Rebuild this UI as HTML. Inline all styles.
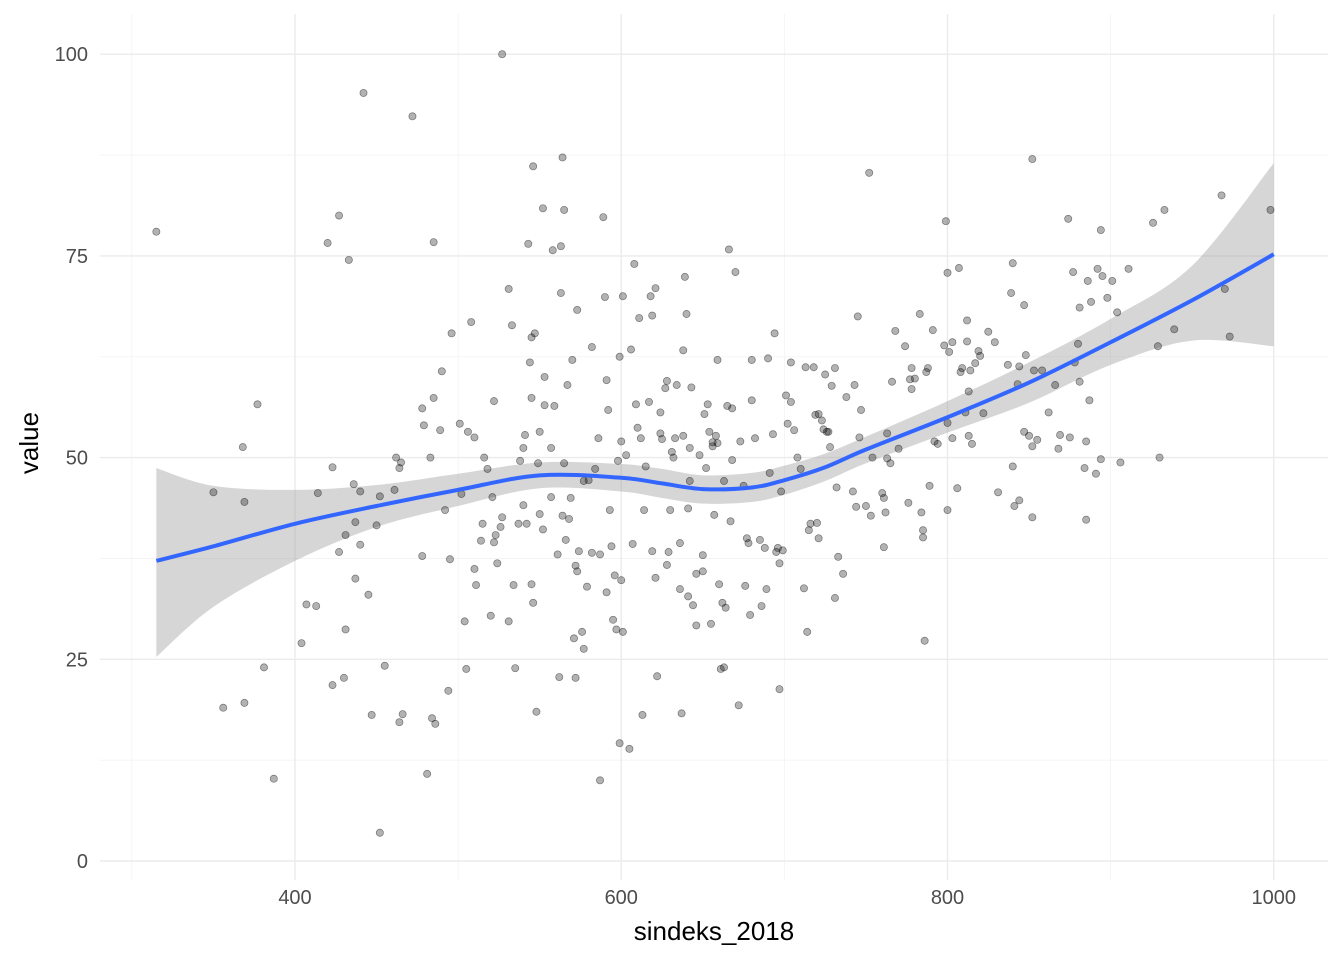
<!DOCTYPE html>
<html><head><meta charset="utf-8"><style>
html,body{margin:0;padding:0;background:#fff;}
svg{display:block;font-family:"Liberation Sans",Arial,sans-serif;}
</style></head><body>
<svg id="chart" width="1344" height="960" viewBox="0 0 1344 960" xmlns="http://www.w3.org/2000/svg">
<g id="grid"></g>
<g id="band"></g>
<g id="pts"></g>
<g id="line"></g>
<g id="axes"></g>
<text x="714" y="940" font-size="26" text-anchor="middle" fill="#000">sindeks_2018</text>
<text transform="translate(38,443) rotate(-90)" font-size="26" text-anchor="middle" fill="#000">value</text>
</svg>
<script>
const xTicks=[400,600,800,1000];
const xMinor=[300,500,700,900];
const yTicks=[0,25,50,75,100];
const yMinor=[12.5,37.5,62.5,87.5];
const ptX=[315,350,356,368,369,369,377,381,387,404,407,413,414,420,423,423,427,427,430,431,431,433,436,437,437,440,440,442,445,447,450,452,452,455,461,462,464,464,465,466,472,478,479,478,481,483,484,485,485,486,489,490,492,494,495,496,501,502,504,505,506,508,510,510,511,514,515,516,518,520,521,522,522,523,524,526,527,527,531,531,533,534,535,537,538,540,540,541,542,543,544,545,545,545,546,546,547,548,549,550,550,552,552,553,553,557,557,558,559,561,562,563,563,564,564,565,565,566,567,568,569,570,571,572,572,573,573,574,576,577,577,579,580,582,582,584,586,587,587,589,590,591,591,592,593,594,595,596,597,598,599,599,600,600,601,601,603,605,606,607,608,609,610,611,612,613,614,615,617,618,619,619,621,621,622,624,624,625,627,628,628,629,630,631,632,633,634,636,636,637,638,638,639,640,641,641,642,642,643,644,646,646,648,650,650,651,652,653,654,655,656,656,657,658,659,659,660,661,662,663,663,664,665,666,667,668,668,670,672,673,675,676,677,678,679,680,680,682,685,686,688,689,690,691,693,694,695,696,697,697,698,699,701,702,704,704,706,708,710,712,713,714,715,716,718,719,720,721,721,723,724,725,726,727,728,729,731,731,732,733,736,738,742,743,744,745,746,747,750,752,753,754,760,761,761,762,763,763,765,766,768,770,774,776,777,778,778,780,783,784,785,785,786,787,788,789,791,792,794,798,799,800,800,800,801,803,803,806,807,808,809,811,812,812,813,813,814,815,817,819,820,822,825,829,831,837,839,840,840,841,843,844,844,847,847,848,850,852,852,852,853,855,858,862,866,868,869,874,875,877,878,880,881,881,884,885,885,886,887,888,891,892,894,894,895,898,901,904,906,911,926,929,930,933,939,968,970,973,998];
const ptY=[78,45.7,19,51.3,44.5,19.6,56.6,24,10.2,27,31.8,31.6,45.6,76.6,21.8,48.8,80,38.3,22.7,40.4,28.7,74.5,46.7,42,35,45.8,39.2,95.2,33,18.1,41.6,3.5,45.2,24.2,46,50,17.2,48.7,49.4,18.2,92.3,56.1,54,37.8,10.8,50,17.7,57.4,76.7,17,53.4,60.7,43.5,21.1,37.4,65.4,54.2,45.5,29.7,23.8,53.2,66.8,52.5,36.2,34.2,39.7,41.8,50,48.6,30.4,45.1,57,39.5,40.4,36.9,41.4,42.6,100,70.9,29.7,66.4,34.2,23.9,41.8,49.6,51.2,44.1,52.8,41.8,76.5,61.8,64.9,57.4,34.3,86.1,32,65.4,18.5,49.3,43,53.2,80.9,41.1,60,56.5,45.1,51.2,75.7,56.4,38,22.8,70.4,76.2,87.2,42.8,49.3,80.7,39.8,59,42.4,45,62.1,27.6,36.6,22.7,68.3,35.9,38.4,28.4,26.3,47.1,34,47.2,63.7,38.2,48.6,52.4,38,10,79.8,69.9,33.3,59.6,55.9,43.5,39,29.9,35.4,28.7,49.6,62.5,14.6,34.8,52,28.4,70,50.3,13.9,63.4,39.3,74,56.6,53.7,67.3,52.4,18.1,43.5,48.9,56.9,70,67.6,38.4,35.1,71,22.9,53,55.6,52.3,58.6,59.5,36.7,38.3,43.5,50.7,50,52.4,59,33.7,39.4,18.3,63.3,52.7,72.4,67.8,32.8,43.7,47.1,51.2,58.7,31.7,35.6,29.2,50.3,37.9,35.9,55.4,48.7,56.6,53.2,29.4,51.4,51.9,42.9,52.7,62.1,51.8,34.3,23.8,32,24,47.1,31.4,56.4,75.8,42.1,56.1,49.7,73,19.3,52,46.5,34.1,40,39.4,30.5,62.1,57.1,52.4,39.8,31.6,38.8,33.7,62.3,48.1,52.9,65.4,38.3,38.8,36.9,21.3,45.8,38.5,57.7,54.2,61.8,56.9,53.4,50,48.6,33.8,61.2,28.4,41,41.8,61.2,55.3,41.9,55.4,40,54.6,53.5,60.3,53.2,53.2,51.3,58.9,61.1,32.6,46.3,37.7,35.6,57.5,45.8,59,43.9,67.5,52.5,55.9,44,85.3,42.8,50,45.6,38.9,45,43.2,53,49.9,49.3,59.4,65.7,51.1,63.8,44.4,59.7,61.1,58.5,59.8,67.8,43.2,41,40.1,27.3,60.6,61.1,46.5,65.8,52,51.7,63.9,79.3,72.9,54.3,43.5,63.1,52.4,64.3,46.2,73.5,60.6,61.1,55.6,67,64.4,58.2,52.7,60.8,51.7,61.7,63.2,62.6,55.5,65.6,64.3,45.7,61.5,70.4,48.9,74.1,44,59.1,44.7,61.3,68.9,53.2,62.7,52.7,51.4,42.6,87,60.8,52.2,60.8,55.6,59,51.1,52.8,79.6,52.5,73,61.8,64.1,59.4,68.6,48.7,52,42.3,71.9,57.1,69.3,48,73.4,78.2,49.8,72.5,69.8,71.9,68,49.4,73.4,79.1,63.8,50,80.7,65.9,82.5,70.9,65,80.7];
const smX=[315,350,400,450,500,550,600,625,650,680,700,725,750,800,850,900,950,1000];
const smY=[37.2,39,41.8,44,46,47.8,47.5,46.8,46.1,46.3,47.2,48.8,51,55,59.3,64.3,69.5,75.2];
const bandHi=[48.7,46.5,46,46.6,48,49.4,49.2,48.6,47.8,48.1,49,50.5,52.6,57,61.8,67.2,73.8,86.5];
const bandLo=[25.3,31.5,37.2,41.4,44,46.2,45.8,45,44.3,44.5,45.4,47.1,49.3,53.1,56.8,61.5,64.5,63.8];

const sx=v=>295+(v-400)*326.25/200;
const sy=v=>861-v*8.068;
const NS="http://www.w3.org/2000/svg";
function mk(parent,tag,attrs){const e=document.createElementNS(NS,tag);for(const k in attrs)e.setAttribute(k,attrs[k]);parent.appendChild(e);return e;}
const L=100,R=1328,T=14,B=880;
const grid=document.getElementById('grid');
xMinor.forEach(v=>{const e=mk(grid,'line',{x1:sx(v),x2:sx(v),y1:T,y2:B,stroke:'#f2f2f2','stroke-width':0.8});

});
yMinor.forEach(v=>{const e=mk(grid,'line',{x1:L,x2:R,y1:sy(v),y2:sy(v),stroke:'#f2f2f2','stroke-width':0.8});

});
xTicks.forEach(v=>{const e=mk(grid,'line',{x1:sx(v),x2:sx(v),y1:T,y2:B,stroke:'#ebebeb','stroke-width':1.4});

});
yTicks.forEach(v=>{const e=mk(grid,'line',{x1:L,x2:R,y1:sy(v),y2:sy(v),stroke:'#ebebeb','stroke-width':1.4});

});
const axes=document.getElementById('axes');
xTicks.forEach(v=>{const t=mk(axes,'text',{x:sx(v),y:904,'font-size':20,'text-anchor':'middle',fill:'#4d4d4d'});t.textContent=v;

});
yTicks.forEach(v=>{const t=mk(axes,'text',{x:88,y:sy(v)+7,'font-size':20,'text-anchor':'end',fill:'#4d4d4d'});t.textContent=v;

});
function curve(xs,ys){const p=xs.map((x,i)=>[sx(x),sy(ys[i])]);let d='M'+p[0][0]+','+p[0][1];
for(let i=0;i<p.length-1;i++){const p0=p[Math.max(0,i-1)],p1=p[i],p2=p[i+1],p3=p[Math.min(p.length-1,i+2)];
d+=' C'+(p1[0]+(p2[0]-p0[0])/6)+','+(p1[1]+(p2[1]-p0[1])/6)+' '+(p2[0]-(p3[0]-p1[0])/6)+','+(p2[1]-(p3[1]-p1[1])/6)+' '+p2[0]+','+p2[1];}
return d;}
const band=document.getElementById('band');
const hi=curve(smX,bandHi);
const loRevX=smX.slice().reverse(),loRevY=bandLo.slice().reverse();
const lo=curve(loRevX,loRevY).replace(/^M/,' L');
const bp=mk(band,'path',{d:hi+lo+' Z',fill:'#999','fill-opacity':0.4});


const pts=document.getElementById('pts');
ptX.forEach((x,i)=>{const c=mk(pts,'circle',{cx:sx(x),cy:sy(ptY[i]),r:3.6,fill:'#000','fill-opacity':0.3,stroke:'#000','stroke-opacity':0.45,'stroke-width':0.7});

});
const lg=document.getElementById('line');
const lp=mk(lg,'path',{d:curve(smX,smY),fill:'none',stroke:'#3366ff','stroke-width':4});


</script>
</body></html>
